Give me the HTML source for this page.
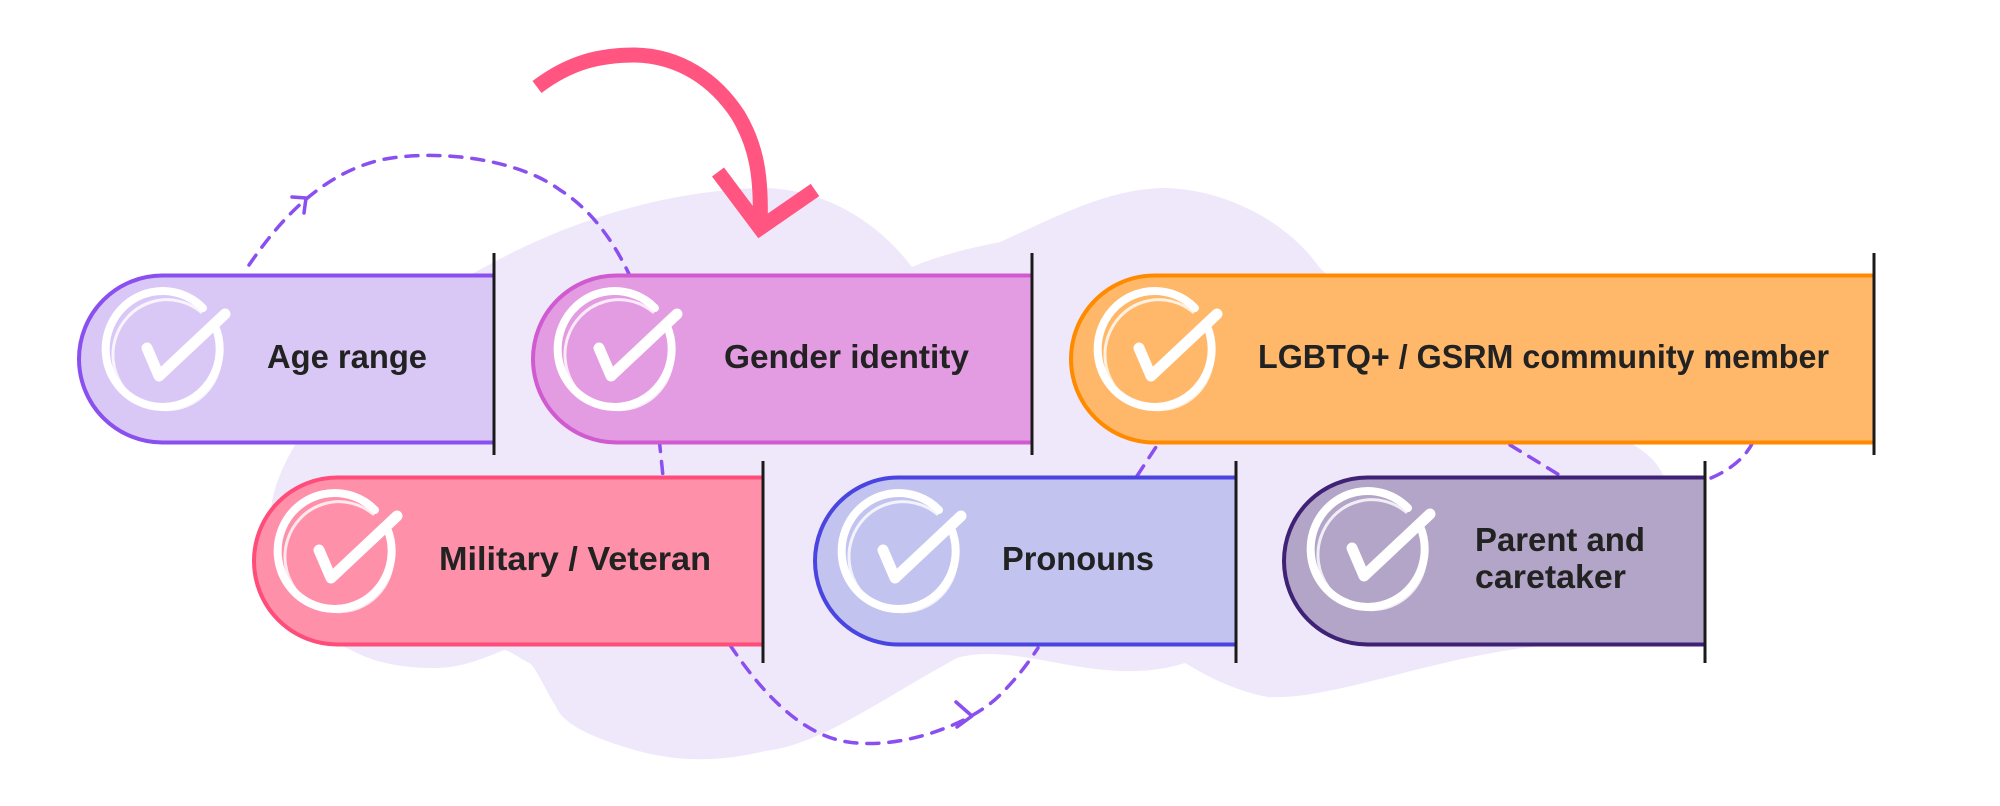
<!DOCTYPE html>
<html><head><meta charset="utf-8"><style>
html,body{margin:0;padding:0;background:#fff;}
svg{display:block;}
text{font-family:"Liberation Sans",sans-serif;font-weight:bold;fill:#222;}
</style></head><body>
<svg width="2000" height="806" viewBox="0 0 2000 806" xmlns="http://www.w3.org/2000/svg">
<defs>
<g id="chk" fill="none" stroke="#fff" stroke-linecap="round" stroke-linejoin="round">
<path d="M40 -48 A57 58 0 1 0 52 -30" stroke-width="8"/>
<path d="M38 -44 A54 55 0 1 0 54 -22" stroke-width="3" opacity="0.8"/>
<path d="M-16 -8 L-4 20 L62 -42" stroke-width="11"/>
</g>
</defs>
<!-- blob -->
<path fill="#efe8fa" d="M300 437 C330 360 420 300 485 267 C560 225 660 190 765 188 C830 190 880 225 912 267 C940 255 970 248 1000 242 C1060 215 1110 188 1166 188 C1230 190 1290 225 1319 267 C1380 330 1480 390 1560 420 C1640 440 1672 455 1670 520 C1668 600 1600 640 1523 648 C1420 662 1330 700 1268 697 C1230 690 1200 672 1185 663 C1100 690 1020 640 957 658 C880 700 820 745 765 751 C720 762 680 762 638 751 C600 740 575 730 561 715 C545 690 535 665 529 663 C515 655 508 650 504 650 C480 660 460 668 434 668 C400 668 375 662 357 653 C330 640 310 630 300 617 C280 590 271 555 271 514 C271 490 285 460 300 437 Z"/>
<!-- dashed connectors -->
<g fill="none" stroke="#8a4fef" stroke-width="3.5" stroke-dasharray="12 10" stroke-linecap="round">
<path d="M249 265 C280 220 320 175 380 160 C440 148 520 160 560 190 C600 215 625 260 640 300 C650 340 655 400 663 476"/>
<path d="M730 645 C760 690 800 735 848 742 C900 750 970 725 1000 695 C1020 675 1030 660 1038 648"/>
<path d="M1137 476 L1156 447"/>
<path d="M1510 445 L1561 476"/>
<path d="M1711 478 C1730 470 1745 458 1753 442"/>
</g>
<g fill="none" stroke="#8a4fef" stroke-width="3.5" stroke-linecap="round" stroke-linejoin="round">
<path d="M292 197 L306 198 L304 213"/>
<path d="M956 702 L972 716 L957 727"/>
</g>
<!-- pink arrow -->
<g fill="none" stroke="#ff5580" stroke-linecap="butt" stroke-linejoin="miter">
<path d="M537 87 C570 62 600 55 635 55 C680 56 715 80 738 115 C756 145 762 175 760 228" stroke-width="15"/>
<path d="M718 172 L760 228 L815 190" stroke-width="15"/>
</g>
<!-- pills row 1 -->
<g stroke-width="4">
<path d="M494 275.5 H162.5 A83.5 83.5 0 0 0 162.5 442.5 H494" fill="#d9c8f5" stroke="#8a4fef"/>
<path d="M1032 275.5 H616.5 A83.5 83.5 0 0 0 616.5 442.5 H1032" fill="#e39be2" stroke="#d05ad0"/>
<path d="M1874 275.5 H1154.5 A83.5 83.5 0 0 0 1154.5 442.5 H1874" fill="#ffb869" stroke="#ff8a00"/>
<path d="M763 477.5 H337.5 A83.5 83.5 0 0 0 337.5 644.5 H763" fill="#ff90aa" stroke="#ff4d7a"/>
<path d="M1236 477.5 H898.5 A83.5 83.5 0 0 0 898.5 644.5 H1236" fill="#c3c3f0" stroke="#4a45e0"/>
<path d="M1705 477.5 H1367.5 A83.5 83.5 0 0 0 1367.5 644.5 H1705" fill="#b3a5c8" stroke="#3f2275"/>
</g>
<g stroke="#1a1a1a" stroke-width="3">
<line x1="494" y1="253" x2="494" y2="455"/>
<line x1="1032" y1="253" x2="1032" y2="455"/>
<line x1="1874" y1="253" x2="1874" y2="455"/>
<line x1="763" y1="461" x2="763" y2="663"/>
<line x1="1236" y1="461" x2="1236" y2="663"/>
<line x1="1705" y1="461" x2="1705" y2="663"/>
</g>
<use href="#chk" x="163" y="356"/>
<use href="#chk" x="615" y="356"/>
<use href="#chk" x="1155" y="356"/>
<use href="#chk" x="335" y="558"/>
<use href="#chk" x="899" y="558"/>
<use href="#chk" x="1368" y="556"/>
<g font-size="33">
<text x="267" y="368" textLength="160" lengthAdjust="spacingAndGlyphs">Age range</text>
<text x="724" y="368" textLength="245" lengthAdjust="spacingAndGlyphs">Gender identity</text>
<text x="1258" y="368" textLength="571" lengthAdjust="spacingAndGlyphs">LGBTQ+ / GSRM community member</text>
<text x="439" y="570" textLength="272" lengthAdjust="spacingAndGlyphs">Military / Veteran</text>
<text x="1002" y="570" textLength="152" lengthAdjust="spacingAndGlyphs">Pronouns</text>
<text x="1475" y="551" textLength="170" lengthAdjust="spacingAndGlyphs">Parent and</text>
<text x="1475" y="588" textLength="151" lengthAdjust="spacingAndGlyphs">caretaker</text>
</g>
</svg>
</body></html>
